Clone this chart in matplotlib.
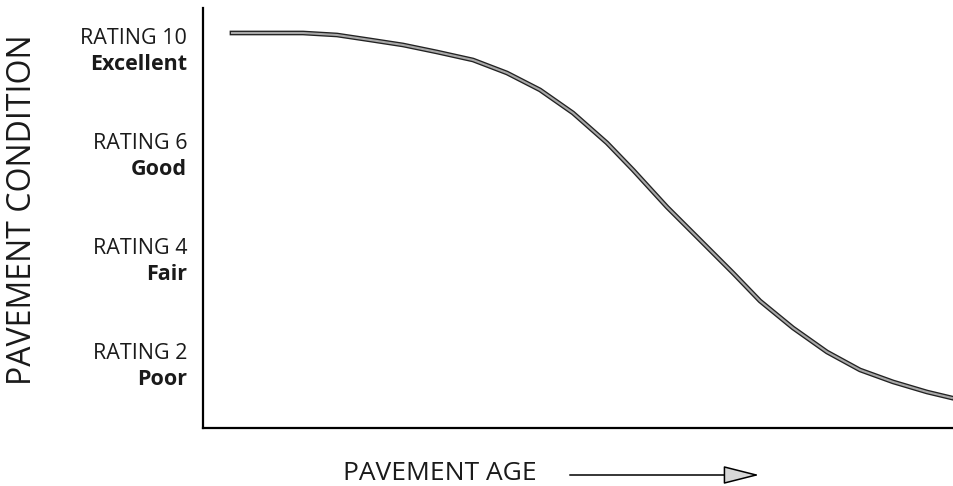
import matplotlib

matplotlib.use("Agg")
import matplotlib.pyplot as plt
import matplotlib.patheffects as pe
from matplotlib.patches import FancyArrowPatch
from matplotlib.transforms import blended_transform_factory, offset_copy


OUTPUT_PATH = "out.png"

# pavement age (percent of axis span) and condition (1 = Poor ... 4 = Excellent)
AGE = [3.86, 8.92, 13.32, 17.84, 22.24, 26.63, 31.16, 35.95, 40.48, 44.87, 49.27,
       53.79, 57.26, 61.78, 66.18, 70.57, 74.17, 78.56, 83.09, 87.48, 91.88, 96.40, 99.73]
CONDITION = [4.152, 4.152, 4.152, 4.133, 4.086, 4.038, 3.971, 3.895, 3.771, 3.610, 3.390,
             3.105, 2.848, 2.495, 2.181, 1.867, 1.600, 1.343, 1.114, 0.943, 0.829, 0.733, 0.676]

TICK_POSITIONS = [4, 3, 2, 1]
RATING_LABELS = ["RATING 10", "RATING 6", "RATING 4", "RATING 2"]
CONDITION_LABELS = ["Excellent", "Good", "Fair", "Poor"]

FONT = "Open Sans"


def plot_pavement_curve() -> None:
    fig = plt.figure(figsize=(9.54, 4.86), dpi=100)
    ax = fig.add_axes([203 / 954, 58 / 486, 751 / 954, 420 / 486])

    ax.plot(AGE, CONDITION, color="#a8a8a8", linewidth=1.5, solid_joinstyle="round",
            path_effects=[pe.Stroke(linewidth=3.4, foreground="#222222"), pe.Normal()])

    ax.set_xlim(0, 100)
    ax.set_ylim(0.39, 4.39)
    ax.set_xticks([])
    ax.set_yticks([])
    for side in ("top", "right"):
        ax.spines[side].set_visible(False)
    for side in ("left", "bottom"):
        ax.spines[side].set_linewidth(1.6)
        ax.spines[side].set_color("black")

    trans = blended_transform_factory(ax.transAxes, ax.transData)
    for pos, rating, cond in zip(TICK_POSITIONS, RATING_LABELS, CONDITION_LABELS):
        ax.text(-0.021, pos, rating, transform=offset_copy(trans, fig=fig, y=7.5, units="points"),
                ha="right", va="center", fontsize=15.5, family=FONT, color="#1a1a1a")
        ax.text(-0.021, pos, cond, transform=offset_copy(trans, fig=fig, y=-11.5, units="points"),
                ha="right", va="center", fontsize=15.5, family=FONT, fontweight="bold",
                color="#1a1a1a")

    fig.text(23 / 954, 1 - 210 / 486, "PAVEMENT CONDITION", rotation=90, ha="center",
             va="center", fontsize=23, family=FONT, color="#1a1a1a")
    fig.text(343 / 954, 1 - 473 / 486, "PAVEMENT AGE", ha="left", va="center",
             fontsize=19, family=FONT, color="#1a1a1a")

    fig.add_artist(FancyArrowPatch(
        (567 / 954, 1 - 475 / 486), (762 / 954, 1 - 475 / 486),
        transform=fig.transFigure,
        arrowstyle="-|>,head_length=1.9,head_width=0.48", mutation_scale=12,
        linewidth=1.1, edgecolor="black", facecolor="#d8d8d8"))

    fig.savefig(OUTPUT_PATH, dpi=100)


if __name__ == "__main__":
    plot_pavement_curve()
